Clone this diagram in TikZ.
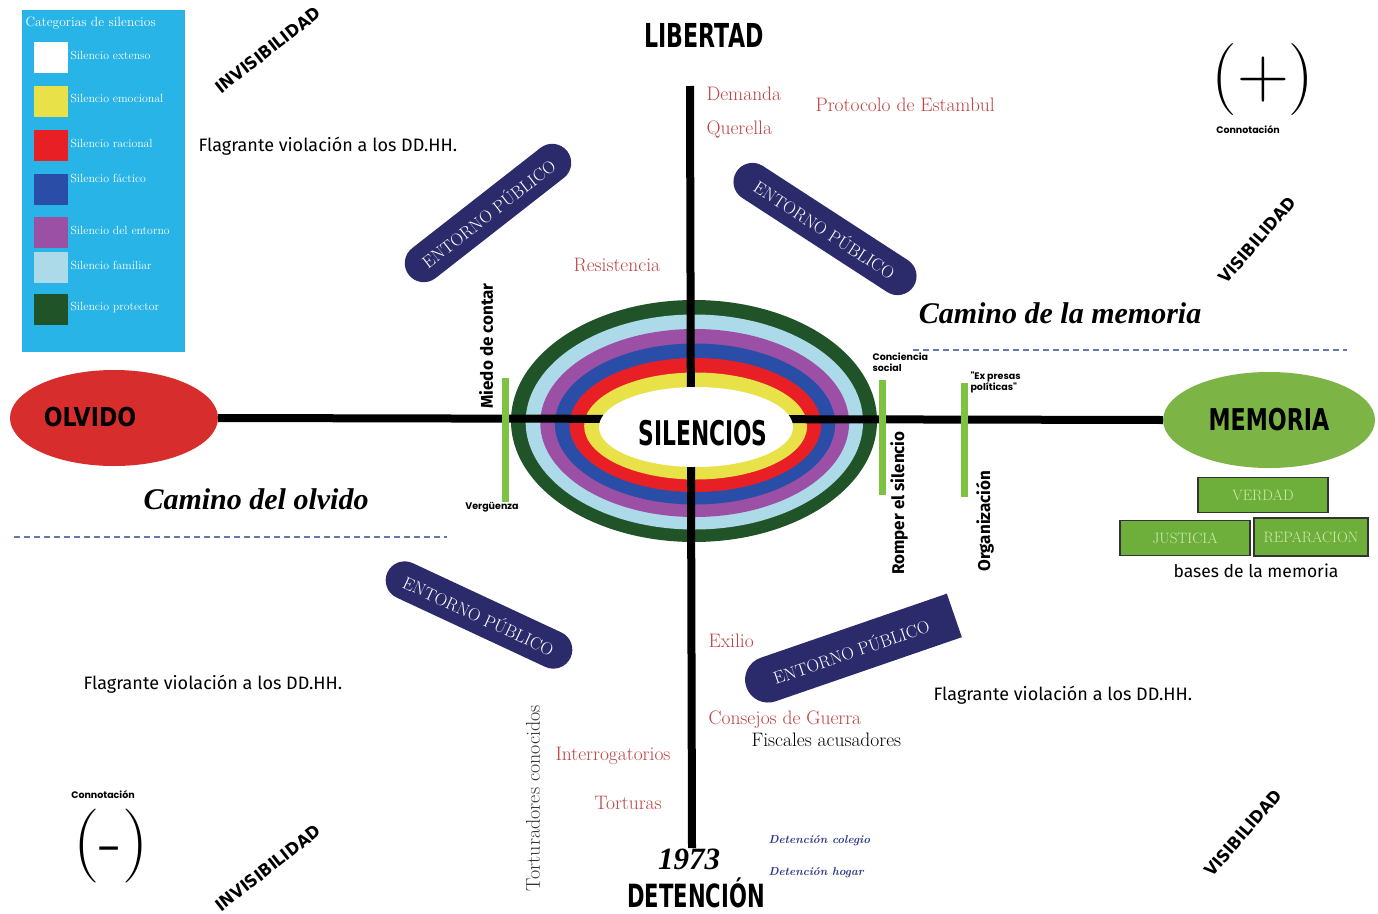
\documentclass[tikz,border=0pt]{standalone}
\usepackage{fontspec}
\usepackage{graphicx}
\usepackage{xcolor}
\usetikzlibrary{positioning,shapes.geometric,shapes.misc}
\newfontfamily\blockfont{DejaVu Sans}
\newfontfamily\myriad{Fira Sans}
\newfontfamily\gothic{Poppins}
\newfontfamily\timesf{Liberation Serif}
\newcommand{\blk}[2]{\scalebox{#1}[1]{\blockfont\bfseries #2}}

\definecolor{legendBlue}{RGB}{40,180,230}
\definecolor{navy}{RGB}{43,42,107}
\definecolor{brick}{RGB}{190,66,66}
\definecolor{barGreen}{RGB}{125,195,65}
\definecolor{memGreen}{RGB}{125,180,70}
\definecolor{boxGreen}{RGB}{110,175,60}
\definecolor{boxText}{RGB}{205,235,170}
\definecolor{olvRed}{RGB}{215,45,45}
\definecolor{dashCol}{RGB}{100,120,175}
\definecolor{detBlue}{RGB}{45,55,140}
\definecolor{sYellow}{RGB}{232,226,72}
\definecolor{sRed}{RGB}{232,32,38}
\definecolor{sBlue}{RGB}{42,78,168}
\definecolor{sPurple}{RGB}{155,80,165}
\definecolor{sCyan}{RGB}{172,218,232}
\definecolor{sGreen}{RGB}{32,84,40}

\begin{document}
\begin{tikzpicture}[x=1pt,y=-1pt,
    axis/.style={line width=8pt},
    greenbar/.style={line width=7pt,barGreen},
    pill/.style={rounded rectangle,fill=navy,text=white,minimum height=38pt,inner xsep=4pt,font=\fontsize{17.5}{17.5}\selectfont},
    redlbl/.style={anchor=west,text=brick,font=\fontsize{19.5}{20}\selectfont},
    swatch/.style={minimum width=34pt,minimum height=31pt,inner sep=0pt},
    leglbl/.style={anchor=west,text=white,font=\fontsize{11.8}{12}\selectfont},
    basebox/.style={draw=black!80,line width=1.5pt,fill=boxGreen,text=boxText,minimum height=35pt,font=\fontsize{15}{15}\selectfont},
    flag/.style={anchor=west,font=\myriad\fontsize{18}{18}\selectfont},
    small/.style={font=\gothic\bfseries\fontsize{9.5}{11}\selectfont},
    vlbl/.style={rotate=90,font=\myriad\bfseries\fontsize{17}{17}\selectfont},
]
    \fill[white] (0,0) rectangle (1378,913);
    \useasboundingbox (0,0) rectangle (1378,913);

    % Legend
    \fill[legendBlue] (22,10) rectangle (185,352);
    \node[anchor=west,text=white,font=\fontsize{13.5}{14}\selectfont] (legtitle) at (22,23) {Categorias de silencios};
    \foreach \col/\y/\ly/\txt in {white/57/55/Silencio extenso, sYellow/101/98/Silencio emocional,
        sRed/145/143/Silencio racional, sBlue/189/178/Silencio fáctico, sPurple/232/230/Silencio del entorno,
        sCyan/267/265/Silencio familiar, sGreen/309/307/Silencio protector} {
        \node[swatch,fill=\col] (sw\y) at (51,\y) {};
        \node[leglbl] (lg\y) at (67,\ly) {\txt};
    }

    % Rings
    \foreach \col [count=\k from 0] in {sGreen,sCyan,sPurple,sBlue,sRed,sYellow}
        \fill[\col] (694+0.33*\k,421+\k) ellipse [x radius={183-14.3*\k}, y radius={121-13.5*\k}];

    % Ends of the horizontal axis
    \node[ellipse,fill=olvRed,minimum width=208pt,minimum height=96pt] (olvido) at (114,418) {};
    \node[ellipse,fill=memGreen,minimum width=212pt,minimum height=96pt] (memoria) at (1269,420) {\blk{0.74}{\fontsize{30}{30}\selectfont MEMORIA}};
    \node (olvidotxt) at (90,417) {\blk{0.85}{\fontsize{26}{26}\selectfont OLVIDO}};

    % Axes
    \coordinate (libtop) at (690,86);
    \coordinate (detbot) at (692,848);
    \draw[axis] (libtop) -- (detbot);
    \draw[axis] (olvido.east) -- (memoria.west);

    % Center
    \node[ellipse,fill=white,minimum width=194pt,minimum height=80pt,inner sep=0pt] (silencios) at (696,427) {};
    \node (silenciostxt) at (703,433) {\blk{0.64}{\fontsize{34}{34}\selectfont SILENCIOS}};

    \node (libertad) at (704,35) {\blk{0.67}{\fontsize{33}{33}\selectfont LIBERTAD}};
    \node (anio) at (689,859) {\timesf\fontsize{31}{31}\selectfont\bfseries\itshape 1973};
    \node[inner sep=1pt] (detencion) at (696,893) {\blk{0.66}{\fontsize{32}{32}\selectfont DETENCIÓN}};

    % Green bars
    \draw[greenbar] (505,378) -- (505,502);
    \draw[greenbar] (882,380) -- (882,495);
    \draw[greenbar] (964,383) -- (964,497);

    % Dashed dividers
    \draw[dashCol,line width=1.3pt,dash pattern=on 6pt off 4pt] (913,350) -- (1347,350);
    \draw[dashCol,line width=1.3pt,dash pattern=on 6pt off 4pt] (14,537) -- (447,537);
    \node[font=\timesf\fontsize{30}{30}\selectfont\bfseries\itshape] (cmem) at (1060,313) {Camino de la memoria};
    \node[font=\timesf\fontsize{30}{30}\selectfont\bfseries\itshape] (colv) at (256,499) {Camino del olvido};

    % Entorno publico
    \node[pill,rotate=38,minimum width=209pt] (ep1) at (488,213) {ENTORNO PÚBLICO};
    \node[pill,rotate=-33,minimum width=219pt] (ep2) at (825,229) {ENTORNO PÚBLICO};
    \node[pill,rotate=-25,minimum width=210pt] (ep3) at (479,615) {ENTORNO PÚBLICO};
    \node[pill,rotate=19,minimum width=228pt,minimum height=46pt,rounded rectangle right arc=none] (ep4) at (851,651) {ENTORNO PÚBLICO};

    % Labels on the vertical axis
    \node[redlbl] (demanda) at (703,94) {Demanda};
    \node[redlbl] (querella) at (703,130) {Querella};
    \node[redlbl] (protocolo) at (812,105) {Protocolo de Estambul};
    \node[redlbl] (resist) at (570,265) {Resistencia};
    \node[redlbl] (exilio) at (705,641) {Exilio};
    \node[redlbl] (consejos) at (705,720) {Consejos de Guerra};
    \node[anchor=west,font=\fontsize{19.5}{20}\selectfont] (fiscales) at (748,740) {Fiscales acusadores};
    \node[redlbl] (interrog) at (552,756) {Interrogatorios};
    \node[redlbl] (torturas) at (591,803) {Torturas};
    \node[rotate=90,text=black!80,font=\fontsize{20}{20}\selectfont] (tortcon) at (533,798) {Torturadores conocidos};
    \node[anchor=west,text=detBlue,font=\fontsize{11.5}{12}\selectfont\bfseries\itshape] (detcol) at (765,841) {Detención colegio};
    \node[anchor=west,text=detBlue,font=\fontsize{11.5}{12}\selectfont\bfseries\itshape] (dethog) at (765,873) {Detención hogar};

    % Labels at the bars
    \node[vlbl] (miedo) at (486,346) {Miedo de contar};
    \node[small] (verg) at (492,507) {Vergüenza};
    \node[vlbl] (romper) at (899,503) {Romper el silencio};
    \node[vlbl] (organiz) at (985,521) {Organización};
    \node[small,anchor=north west,align=left] (conciencia) at (869,349) {Conciencia\\social};
    \node[small,anchor=north west,align=left] (expresas) at (967,368) {"Ex presas\\políticas"};

    % Flagrante
    \node[flag] (flag1) at (195,146) {Flagrante violación a los DD.HH.};
    \node[flag] (flag2) at (80,684) {Flagrante violación a los DD.HH.};
    \node[flag] (flag3) at (930,695) {Flagrante violación a los DD.HH.};

    % Bases de la memoria
    \node[basebox,minimum width=130pt] (verdad) at (1263,495) {VERDAD};
    \node[basebox,minimum width=130pt] (justicia) at (1185,538) {JUSTICIA};
    \node[basebox,minimum width=114pt,minimum height=38pt] (reparacion) at (1311,537) {REPARACION};
    \node[font=\myriad\fontsize{17.5}{18}\selectfont] (bases) at (1256,571) {bases de la memoria};

    % Visibilidad
    \node[rotate=38] (invis1) at (268,50) {\blk{0.94}{\fontsize{17}{17}\selectfont INVISIBILIDAD}};
    \node[rotate=38] (invis2) at (268,868) {\blk{0.94}{\fontsize{17}{17}\selectfont INVISIBILIDAD}};
    \node[rotate=49] (vis1) at (1257,240) {\blk{0.93}{\fontsize{17}{17}\selectfont VISIBILIDAD}};
    \node[rotate=49] (vis2) at (1243,833) {\blk{0.93}{\fontsize{17}{17}\selectfont VISIBILIDAD}};

    % Connotacion
    \node[font=\fontsize{72}{72}\selectfont] (mas) at (1263,80) {(+)};
    \node[small] (conn1) at (1248,130) {Connotación};
    \node[font=\fontsize{74}{74}\selectfont] (menos) at (111,846) {(-)};
    \node[small] (conn2) at (103,795) {Connotación};
\end{tikzpicture}
\end{document}
